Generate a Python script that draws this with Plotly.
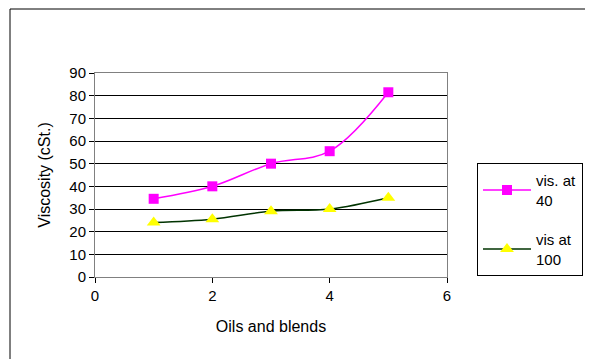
import plotly.graph_objects as go

x_vals = [1, 2, 3, 4, 5]
vis40 = [34.5, 40, 50, 55.5, 81.5]
vis100 = [24, 25.5, 29, 30, 35]
x_ticks = [0, 2, 4, 6]
y_ticks = [0, 10, 20, 30, 40, 50, 60, 70, 80, 90]

fig = go.Figure()
fig.add_trace(go.Scatter(
    x=x_vals, y=vis40, name="vis. at<br>40", mode="lines+markers", legendgroup="a",
    line=dict(color="#FF00FF", width=1.5, shape="spline"),
    marker=dict(symbol="square", size=10, color="#FF00FF"),
))
fig.add_trace(go.Scatter(
    x=x_vals, y=vis100, name="vis at<br>100", mode="lines+markers", legendgroup="b",
    line=dict(color="#003300", width=1.5, shape="spline"),
    marker=dict(symbol="triangle-up", size=12, color="#FFFF00"),
))

OFF = 8  # page body margin
L, R, T, B = 95 - OFF, 447 - OFF, 73 - OFF, 277 - OFF
W, H = 593, 359

fig.update_layout(
    width=W, height=H,
    margin=dict(l=L, r=W - R, t=T, b=H - B),
    paper_bgcolor="white", plot_bgcolor="white",
    font=dict(family="Liberation Sans, Arial, sans-serif", size=15, color="black"),
    showlegend=True,
    legend=dict(
        x=(477 - OFF - L) / (R - L), y=(B - (163 - OFF)) / (B - T),
        xanchor="left", yanchor="top",
        bordercolor="black", borderwidth=1,
        font=dict(size=15), tracegroupgap=17,
        itemwidth=48,
    ),
    xaxis=dict(
        range=[0, 6], tickvals=x_ticks, showgrid=False, zeroline=False,
        showline=True, linecolor="#808080", linewidth=1, mirror=True,
        ticks="outside", ticklen=5, tickcolor="black", automargin=False,
        tickfont=dict(size=15),
        title=dict(text="Oils and blends", standoff=17, font=dict(size=16)),
    ),
    yaxis=dict(
        range=[0, 90], tickvals=y_ticks, showgrid=True, gridcolor="black", gridwidth=1,
        zeroline=False, showline=True, linecolor="#808080", linewidth=1, mirror=True,
        ticks="outside", ticklen=5, tickcolor="black", automargin=False,
        tickfont=dict(size=15),
        title=dict(text="Viscosity (cSt.)", standoff=14, font=dict(size=16)),
    ),
    shapes=[dict(
        type="rect", xref="paper", yref="paper",
        x0=(10 - OFF - L) / (R - L), x1=(640 - L) / (R - L),
        y0=(B - 400) / (B - T), y1=(B - (9 - OFF)) / (B - T),
        line=dict(color="black", width=1), fillcolor="rgba(0,0,0,0)", layer="below",
    )],
)

fig.write_html("out.html")
